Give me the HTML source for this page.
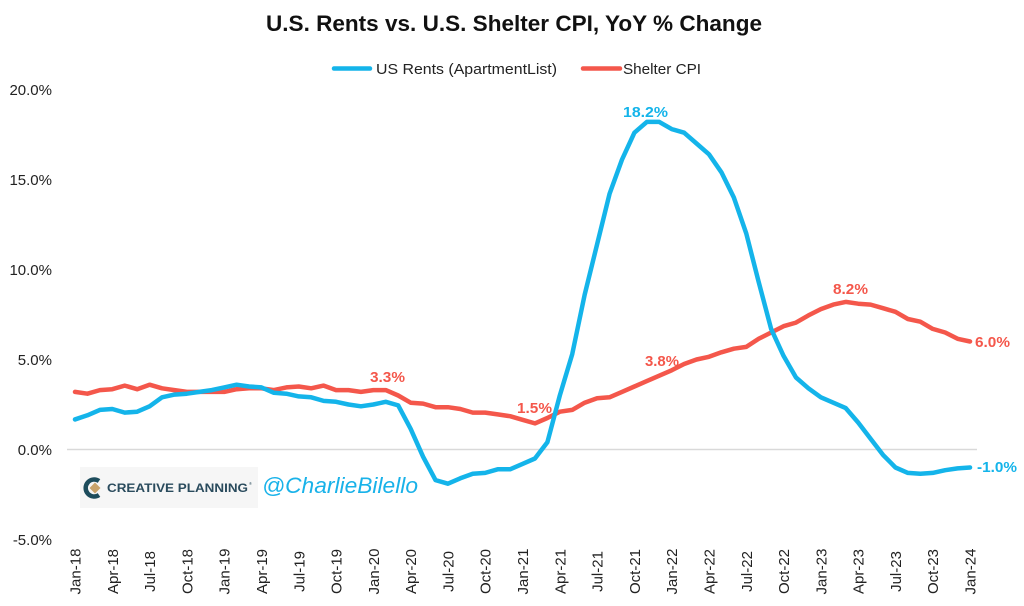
<!DOCTYPE html>
<html>
<head>
<meta charset="utf-8">
<style>
  html,body{margin:0;padding:0;background:#fff;}
  svg{display:block;}
  text{font-family:"Liberation Sans",sans-serif;}
</style>
</head>
<body>
<svg width="1024" height="606" viewBox="0 0 1024 606" xmlns="http://www.w3.org/2000/svg">
  <rect x="0" y="0" width="1024" height="606" fill="#ffffff"/>

  <!-- Title -->
  <text x="514" y="31" text-anchor="middle" font-size="22" font-weight="bold" fill="#111" textLength="496" lengthAdjust="spacingAndGlyphs">U.S. Rents vs. U.S. Shelter CPI, YoY % Change</text>

  <!-- Legend -->
  <line x1="334" y1="68.5" x2="370" y2="68.5" stroke="#14b4ea" stroke-width="4.5" stroke-linecap="round"/>
  <text x="376" y="74" font-size="15" fill="#222" textLength="181" lengthAdjust="spacingAndGlyphs">US Rents (ApartmentList)</text>
  <line x1="583" y1="68.5" x2="620" y2="68.5" stroke="#f4574b" stroke-width="4.5" stroke-linecap="round"/>
  <text x="623" y="74" font-size="15" fill="#222" textLength="78" lengthAdjust="spacingAndGlyphs">Shelter CPI</text>

  <!-- Y axis labels -->
  <g font-size="15" fill="#222" text-anchor="end">
    <text x="52" y="95">20.0%</text>
    <text x="52" y="185">15.0%</text>
    <text x="52" y="275">10.0%</text>
    <text x="52" y="365">5.0%</text>
    <text x="52" y="455">0.0%</text>
    <text x="52" y="545">-5.0%</text>
  </g>

  <!-- Zero line -->
  <line x1="67" y1="449.5" x2="977" y2="449.5" stroke="#d9d9d9" stroke-width="1.5"/>

  <!-- Logo -->
  <rect x="80" y="467" width="178" height="41" fill="#f6f6f6"/>
  <path d="M99 481 A8.5 8.5 0 1 0 99 495" fill="none" stroke="#1d4c5c" stroke-width="4.5"/>
  <polygon points="95,482.5 100.5,488 95,493.5 89.5,488" fill="#c9a46c"/>
  <text x="107" y="492" font-size="11.5" font-weight="bold" fill="#2a4b5d" textLength="141" lengthAdjust="spacingAndGlyphs">CREATIVE PLANNING</text>
  <text x="249" y="485" font-size="4" fill="#2a4b5d">®</text>
  <text x="262" y="493" font-size="22" font-style="italic" fill="#19b2e9" textLength="156" lengthAdjust="spacingAndGlyphs">@CharlieBilello</text>

  <!-- Series -->
  <g transform="matrix(12.431,0,0,-18,75,449.5)" fill="none" stroke-linejoin="round" stroke-linecap="round">
    <polyline vector-effect="non-scaling-stroke" stroke="#f4574b" stroke-width="4.5"
      points="0,3.2 1,3.1 2,3.3 3,3.35 4,3.55 5,3.35 6,3.6 7,3.4 8,3.3 9,3.2 10,3.2 11,3.2
              12,3.2 13,3.35 14,3.4 15,3.4 16,3.3 17,3.45 18,3.5 19,3.4 20,3.55 21,3.3 22,3.3 23,3.2
              24,3.3 25,3.3 26,3.0 27,2.6 28,2.55 29,2.35 30,2.35 31,2.25 32,2.05 33,2.05 34,1.95 35,1.85
              36,1.65 37,1.45 38,1.75 39,2.1 40,2.2 41,2.6 42,2.85 43,2.9 44,3.2 45,3.5 46,3.8 47,4.1
              48,4.4 49,4.75 50,5.0 51,5.15 52,5.4 53,5.6 54,5.7 55,6.15 56,6.5 57,6.85 58,7.05 59,7.45
              60,7.8 61,8.05 62,8.2 63,8.1 64,8.05 65,7.85 66,7.65 67,7.25 68,7.1 69,6.7 70,6.5 71,6.15
              72,6.0"/>
    <polyline vector-effect="non-scaling-stroke" stroke="#14b4ea" stroke-width="4.5"
      points="0,1.67 1,1.9 2,2.2 3,2.25 4,2.05 5,2.1 6,2.4 7,2.9 8,3.05 9,3.1 10,3.2 11,3.3
              12,3.45 13,3.6 14,3.5 15,3.45 16,3.15 17,3.1 18,2.95 19,2.9 20,2.7 21,2.65 22,2.5 23,2.4
              24,2.5 25,2.65 26,2.45 27,1.15 28,-0.4 29,-1.7 30,-1.9 31,-1.6 32,-1.35 33,-1.3 34,-1.1 35,-1.1
              36,-0.8 37,-0.5 38,0.4 39,3.0 40,5.3 41,8.6 42,11.4 43,14.2 44,16.1 45,17.6 46,18.2 47,18.2
              48,17.8 49,17.6 50,17.0 51,16.4 52,15.4 53,14.0 54,12.0 55,9.3 56,6.7 57,5.2 58,4.0 59,3.4
              60,2.9 61,2.6 62,2.3 63,1.5 64,0.6 65,-0.3 66,-1.0 67,-1.3 68,-1.35 69,-1.3 70,-1.15 71,-1.05
              72,-1.0"/>
  </g>

  <!-- Data labels -->
  <g font-size="15" font-weight="bold">
    <text x="623" y="117" fill="#14b4ea" textLength="45" lengthAdjust="spacingAndGlyphs">18.2%</text>
    <text x="370" y="382" fill="#f4574b" textLength="35" lengthAdjust="spacingAndGlyphs">3.3%</text>
    <text x="517" y="413" fill="#f4574b" textLength="35" lengthAdjust="spacingAndGlyphs">1.5%</text>
    <text x="645" y="366" fill="#f4574b" textLength="34" lengthAdjust="spacingAndGlyphs">3.8%</text>
    <text x="833" y="294" fill="#f4574b" textLength="35" lengthAdjust="spacingAndGlyphs">8.2%</text>
    <text x="975" y="347" fill="#f4574b" textLength="35" lengthAdjust="spacingAndGlyphs">6.0%</text>
    <text x="977" y="472" fill="#14b4ea" textLength="40" lengthAdjust="spacingAndGlyphs">-1.0%</text>
  </g>

  <!-- X axis labels -->
  <g font-size="15" fill="#222" text-anchor="middle">
    <text transform="translate(80.5,571.5) rotate(-90)">Jan-18</text>
    <text transform="translate(117.8,571.5) rotate(-90)">Apr-18</text>
    <text transform="translate(155.1,571.5) rotate(-90)">Jul-18</text>
    <text transform="translate(192.4,571.5) rotate(-90)">Oct-18</text>
    <text transform="translate(229.7,571.5) rotate(-90)">Jan-19</text>
    <text transform="translate(267.0,571.5) rotate(-90)">Apr-19</text>
    <text transform="translate(304.3,571.5) rotate(-90)">Jul-19</text>
    <text transform="translate(341.6,571.5) rotate(-90)">Oct-19</text>
    <text transform="translate(378.8,571.5) rotate(-90)">Jan-20</text>
    <text transform="translate(416.1,571.5) rotate(-90)">Apr-20</text>
    <text transform="translate(453.4,571.5) rotate(-90)">Jul-20</text>
    <text transform="translate(490.7,571.5) rotate(-90)">Oct-20</text>
    <text transform="translate(528.0,571.5) rotate(-90)">Jan-21</text>
    <text transform="translate(565.3,571.5) rotate(-90)">Apr-21</text>
    <text transform="translate(602.6,571.5) rotate(-90)">Jul-21</text>
    <text transform="translate(639.9,571.5) rotate(-90)">Oct-21</text>
    <text transform="translate(677.2,571.5) rotate(-90)">Jan-22</text>
    <text transform="translate(714.5,571.5) rotate(-90)">Apr-22</text>
    <text transform="translate(751.8,571.5) rotate(-90)">Jul-22</text>
    <text transform="translate(789.1,571.5) rotate(-90)">Oct-22</text>
    <text transform="translate(826.4,571.5) rotate(-90)">Jan-23</text>
    <text transform="translate(863.7,571.5) rotate(-90)">Apr-23</text>
    <text transform="translate(900.9,571.5) rotate(-90)">Jul-23</text>
    <text transform="translate(938.2,571.5) rotate(-90)">Oct-23</text>
    <text transform="translate(975.5,571.5) rotate(-90)">Jan-24</text>
  </g>
</svg>
</body>
</html>
